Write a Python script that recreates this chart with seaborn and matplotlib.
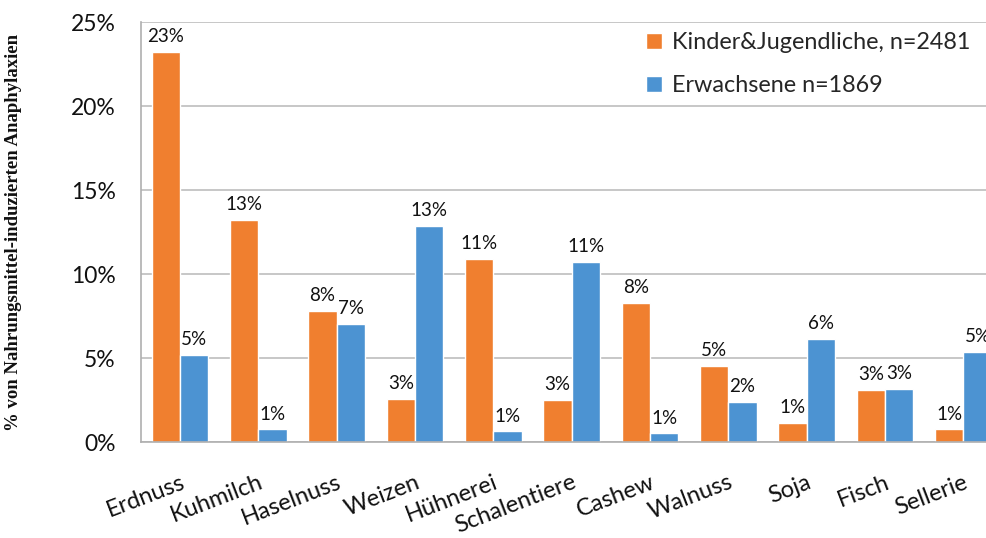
import numpy as np
import pandas as pd
import matplotlib
matplotlib.use('Agg')
import matplotlib.pyplot as plt
from matplotlib.ticker import PercentFormatter
import seaborn as sns

allergene = ['Erdnuss', 'Kuhmilch', 'Haselnuss', 'Weizen', 'Hühnerei', 'Schalentiere',
             'Cashew', 'Walnuss', 'Soja', 'Fisch', 'Sellerie']
kinder = [23.2, 13.25, 7.8, 2.56, 10.9, 2.52, 8.3, 4.56, 1.17, 3.1, 0.76]
erwachsene = [5.22, 0.76, 7.02, 12.85, 0.64, 10.75, 0.52, 2.4, 6.15, 3.17, 5.35]
gruppen = ['Kinder&Jugendliche, n=2481', 'Erwachsene n=1869']
farben = ['#F07F2F', '#4C93D2']

df = pd.DataFrame({
    'Allergen': allergene * 2,
    'Prozent': kinder + erwachsene,
    'Gruppe': [gruppen[0]] * len(allergene) + [gruppen[1]] * len(allergene),
})

sns.set_style('white')
plt.rcParams['font.family'] = ['Lato', 'DejaVu Sans']

fig = plt.figure(figsize=(9.87, 5.38), dpi=100)
ax = fig.add_axes([0.1427, 0.178, 0.873, 0.781])

sns.barplot(data=df, x='Allergen', y='Prozent', hue='Gruppe', palette=farben,
            saturation=1, width=0.723, ax=ax, errorbar=None)

for c in ax.containers:
    ax.bar_label(c, fmt='{:.0f}%', padding=5, fontsize=13.5, color='#111111')

ax.set_ylim(0, 25)
ax.set_yticks([0, 5, 10, 15, 20, 25])
ax.yaxis.set_major_formatter(PercentFormatter(decimals=0))
ax.grid(axis='y', color='#BDBDBD', linewidth=1.2)
ax.set_axisbelow(True)
for s in ['top', 'right']:
    ax.spines[s].set_visible(False)
for s in ['left', 'bottom']:
    ax.spines[s].set_color('#AFAFAF')
    ax.spines[s].set_linewidth(1.2)

ax.tick_params(axis='y', length=5, color='#AFAFAF', pad=13, labelsize=16.5, labelcolor='#111111')
ax.tick_params(axis='x', length=0, pad=21, labelsize=17, labelcolor='#111111')
plt.setp(ax.get_xticklabels(), rotation=21, ha='right', va='top', rotation_mode='anchor')

ax.set_xlabel('')
ax.set_ylabel('% von Nahrungsmittel-induzierten Anaphylaxien', family='Liberation Serif',
              fontweight='bold', fontsize=13.5, color='#111111')
ax.yaxis.set_label_coords(-0.138, 0.5)

ax.legend(loc='upper left', bbox_to_anchor=(0.645, 0.958), bbox_transform=fig.transFigure,
          frameon=False, fontsize=16.8, handlelength=0.68, handleheight=0.68,
          handletextpad=0.45, labelspacing=0.95, borderaxespad=0)

fig.savefig('out.png', dpi=100)
